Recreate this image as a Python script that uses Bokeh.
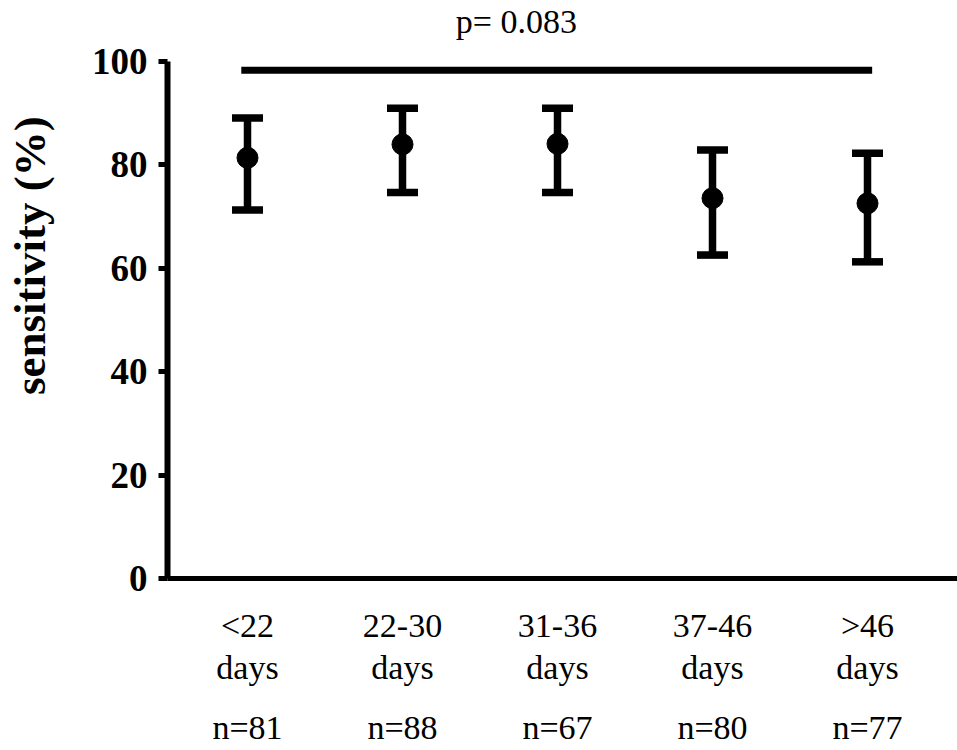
from bokeh.plotting import figure
from bokeh.models import ColumnDataSource, Whisker, TeeHead, LinearAxis, FixedTicker, Range1d
from bokeh.embed import file_html
from bokeh.resources import INLINE
from bokeh.core.properties import value

# ---- data ----
groups = ["<22\ndays", "22-30\ndays", "31-36\ndays", "37-46\ndays", ">46\ndays"]
n_labels = ["n=81", "n=88", "n=67", "n=80", "n=77"]
sensitivity = [81.3, 83.9, 84.0, 73.5, 72.5]
ci_upper = [89.0, 90.9, 90.9, 82.8, 82.2]
ci_lower = [71.2, 74.6, 74.6, 62.5, 61.2]
y_ticks = [0, 20, 40, 60, 80, 100]
y_label = "sensitivity (%)"
p_value_text = "p= 0.083"
bracket_y = 98.2

xpos = list(range(1, len(groups) + 1))
src = ColumnDataSource(data=dict(x=xpos, y=sensitivity, upper=ci_upper, lower=ci_lower))

SERIF = "Liberation Serif"
NBSP = "\u00a0"

p = figure(width=957, height=750, output_backend="svg", toolbar_location=None,
           x_range=Range1d(0.4839, 5.5806), y_range=Range1d(0, 111.7),
           min_border_left=167, min_border_right=0, min_border_top=0, min_border_bottom=172,
           background_fill_color="white", border_fill_color="white")
p.outline_line_color = None
p.xgrid.visible = False
p.ygrid.visible = False

# y axis
ya = p.yaxis[0]
ya.bounds = (0, 100)
ya.ticker = FixedTicker(ticks=y_ticks)
ya.axis_line_width = 6
ya.axis_line_color = "black"
ya.major_tick_line_width = 5
ya.major_tick_out = 9
ya.major_tick_in = 0
ya.minor_tick_out = 0
ya.minor_tick_in = 0
ya.major_label_standoff = 11
ya.major_label_text_font = SERIF
ya.major_label_text_font_style = "bold"
ya.major_label_text_font_size = "37px"
ya.major_label_text_color = "black"
# axis title (leading non-breaking spaces shift it up along the axis as in the original)
ya.axis_label = NBSP * 6 + y_label
ya.axis_label_standoff = 34
ya.axis_label_text_font = SERIF
ya.axis_label_text_font_style = "bold"
ya.axis_label_text_font_size = "45px"
ya.axis_label_text_color = "black"

# x axis (group labels)
xa = p.xaxis[0]
xa.ticker = FixedTicker(ticks=xpos)
xa.major_label_overrides = {x: g for x, g in zip(xpos, groups)}
xa.axis_line_width = 5
xa.axis_line_color = "black"
xa.major_tick_out = 0
xa.major_tick_in = 0
xa.minor_tick_out = 0
xa.minor_tick_in = 0
xa.major_label_standoff = 28
xa.major_label_text_font = SERIF
xa.major_label_text_font_size = "34px"
xa.major_label_text_color = "black"
xa.major_label_text_line_height = 1.15

# second row of x labels (n)
xn = LinearAxis(ticker=FixedTicker(ticks=xpos),
                major_label_overrides={x: n for x, n in zip(xpos, n_labels)},
                axis_line_color=None, major_tick_line_color=None, minor_tick_line_color=None,
                major_tick_out=0, major_tick_in=0,
                major_label_standoff=19, major_label_text_font=SERIF,
                major_label_text_font_size="34px", major_label_text_color="black")
p.add_layout(xn, "below")

# error bars
w = Whisker(base="x", upper="upper", lower="lower", source=src, dimension="height",
            line_width=7.5, line_color="black",
            upper_head=TeeHead(size=31, line_width=7.5, line_color="black"),
            lower_head=TeeHead(size=31, line_width=7.5, line_color="black"))
p.add_layout(w)

p.scatter("x", "y", source=src, size=21, color="black")

# p-value bracket
p.line([xpos[0] - 0.04, xpos[-1] + 0.03], [bracket_y, bracket_y], line_width=7, color="black")
p.text(x=[2.735], y=[107.7], text=[p_value_text], text_font=value(SERIF),
       text_font_size="34px", text_align="center", text_baseline="alphabetic", text_color="black")

open("out.html", "w").write(file_html(p, INLINE))
